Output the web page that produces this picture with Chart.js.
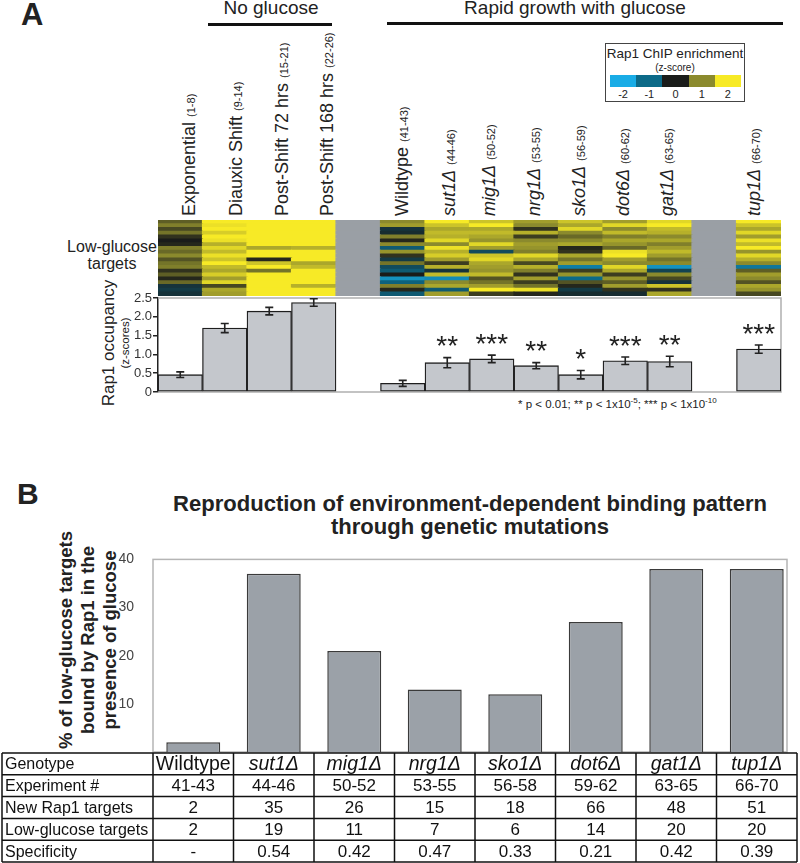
<!DOCTYPE html>
<html><head><meta charset="utf-8">
<script src="https://cdn.jsdelivr.net/npm/chart.js@4.4.1/dist/chart.umd.min.js"></script>
<style>
html,body{margin:0;padding:0;background:#fff;}
#page{position:relative;width:800px;height:863px;overflow:hidden;font-family:"Liberation Sans",Arial,sans-serif;color:#222;}
.abs{position:absolute;white-space:nowrap;}
canvas{position:absolute;}
.rot{position:absolute;white-space:nowrap;transform-origin:0 0;transform:rotate(-90deg) translateY(-50%);font-size:18px;line-height:20px;}
.rot small{font-size:11px;font-style:normal;}
.rc{position:absolute;white-space:nowrap;transform:translate(-50%,-50%) rotate(-90deg);text-align:center;}
.hline{position:absolute;background:#111;}
</style></head><body><div id="page">
<div class="abs" style="left:21px;top:-3px;font-size:31px;font-weight:bold;">A</div>
<div class="abs" style="left:271px;top:-3px;font-size:19px;transform:translateX(-50%);">No glucose</div>
<div class="hline" style="left:208px;top:23px;width:124px;height:3px;"></div>
<div class="abs" style="left:575px;top:-3px;font-size:19px;transform:translateX(-50%);">Rapid growth with glucose</div>
<div class="hline" style="left:387px;top:22px;width:396px;height:3px;"></div>

<div class="abs" style="left:605px;top:43px;width:138px;height:57px;border:1px solid #444;">
  <div class="abs" style="left:0;top:2px;width:138px;text-align:center;font-size:13.5px;">Rap1 ChIP enrichment</div>
  <div class="abs" style="left:0;top:18px;width:138px;text-align:center;font-size:10px;">(z-score)</div>
  <div id="cbar" class="abs" style="left:4px;top:31px;width:131px;height:12px;display:flex;"></div>
  <div id="cbarlab" class="abs" style="left:4px;top:44px;width:131px;height:12px;display:flex;font-size:11px;"></div>
</div>

<div class="abs" style="left:62px;top:238px;width:100px;text-align:center;font-size:16px;line-height:17px;">Low-glucose<br>targets</div>
<div class="rc" style="left:109px;top:343px;font-size:17px;">Rap1 occupancy</div>
<div class="rc" style="left:125px;top:343px;font-size:11.5px;">(z-scores)</div>
<div class="abs" style="left:518px;top:396px;font-size:11.5px;">* p &lt; 0.01; ** p &lt; 1x10<sup style="font-size:8px">-5</sup>; *** p &lt; 1x10<sup style="font-size:8px">-10</sup></div>

<div class="abs" style="left:17px;top:477px;font-size:30px;font-weight:bold;">B</div>
<div id="t1" class="abs" style="left:470px;top:491px;font-size:22px;font-weight:bold;font-family:'Liberation Sans Narrow','Liberation Sans',Arial,sans-serif;">Reproduction of environment-dependent binding pattern</div>
<div id="t2" class="abs" style="left:470px;top:514px;font-size:22px;font-weight:bold;font-family:'Liberation Sans Narrow','Liberation Sans',Arial,sans-serif;">through genetic mutations</div>
<div class="rc" style="left:88px;top:640px;font-size:18.5px;line-height:22px;font-weight:bold;">% of low-glucose targets<br>bound by Rap1 in the<br>presence of glucose</div>

<canvas id="heat" width="623" height="76" style="left:158px;top:220px"></canvas>
<canvas id="barA" width="800" height="120" style="left:0;top:286px"></canvas>
<canvas id="barB" width="800" height="323" style="left:0;top:540px"></canvas>
</div>
<script>
// ---------- Panel A data ----------
const colCategories = ['Exponential','Diauxic Shift','Post-Shift 72 hrs','Post-Shift 168 hrs','','Wildtype','sut1\u0394','mig1\u0394','nrg1\u0394','sko1\u0394','dot6\u0394','gat1\u0394','','tup1\u0394'];
const colRanges = ['(1-8)','(9-14)','(15-21)','(22-26)','','(41-43)','(44-46)','(50-52)','(53-55)','(56-59)','(60-62)','(63-65)','','(66-70)'];
const colItalic = [false,false,false,false,false,false,true,true,true,true,true,true,false,true];
const occupancy = [0.46,1.70,2.15,2.38,null,0.23,0.78,0.88,0.70,0.46,0.83,0.81,null,1.14];
const occupancyErr = [0.075,0.12,0.10,0.10,null,0.08,0.135,0.10,0.08,0.11,0.10,0.14,null,0.11];
const significance = ['','','','','','','**','***','**','*','***','**','','***'];
const aTicks = [0,0.5,1.0,1.5,2.0,2.5];

// heatmap z-scores, rows top to bottom (approximate bands)
const zExponential = [0.6,0.9,0.4,0.8,0.2,0.0,0.1,0.9,0.7,1.0,0.5,0.8,0.9,0.2,0.6,0.1,0.7,-0.3,-0.4,-0.3];
const zDiauxic = [2,1.9,2,1.7,2,1.9,1.4,1.8,1.5,1.9,1.6,2,1.5,1.3,1.7,1.2,1.8,0.4,1.3,1.2];
const zPost72 = [2,2,2,2,2,2,2,1.3,2,2,0.1,1.6,2,0.8,2,2,2,2,2,2];
const zPost168 = [2,2,2,2,2,2,2,1.4,2,2,2,1.3,1.5,2,2,2,2,1.4,2,2];
const zWildtype = [1.0,1.2,-0.3,-0.2,0.9,0.1,1.0,-0.8,1.1,0.2,-0.4,0.8,-0.6,-0.8,0.0,-1.6,-0.9,0.9,0.1,-0.8];
const zSut1 = [2,1.6,1.3,1.5,1.4,1.8,1.0,1.9,1.4,1.7,1.2,0.3,1.4,-0.3,1.5,-1.5,1.0,1.3,-0.8,1.2];
const zMig1 = [1.6,2,1.3,1.5,1.3,1.1,1.8,1.2,-0.6,1.6,1.8,1.3,1.2,1.1,1.5,0.5,0.8,1.2,2,0.3];
const zNrg1 = [1.2,1.0,0.2,1.4,0.3,1.0,1.2,1.1,0.9,1.8,1.3,0.4,1.4,0.9,0.2,1.2,0.3,0.8,1.9,0.1];
const zSko1 = [1.6,1.3,1.8,1.0,0.7,1.0,1.3,0.1,0.2,1.3,0.8,1.2,-1.3,0.3,1.1,-1.0,0.5,0.1,-0.4,-0.2];
const zDot6 = [1.2,1.8,1.0,1.5,0.9,1.3,1.1,0.7,1.9,2.0,1.2,1.0,1.8,1.3,0.3,1.1,0.6,1.2,0.2,-0.2];
const zGat1 = [1.8,2,1.5,1.4,1.0,1.3,0.9,1.2,1.5,1.2,0.8,1.0,-1.6,-0.5,1.0,0.4,-0.3,1.6,0.2,1.3];
const zTup1 = [2,1.6,1.3,1.8,1.2,1.9,1.5,2,1.1,1.8,1.4,1.0,-1.2,0.6,1.2,1.0,0.5,1.3,1.1,0.4];
const heatColumns = [zExponential,zDiauxic,zPost72,zPost168,null,zWildtype,zSut1,zMig1,zNrg1,zSko1,zDot6,zGat1,null,zTup1];
const legendTicks = [-2,-1,0,1,2];

// ---------- Panel B data ----------
const genotypes = ['Wildtype','sut1\u0394','mig1\u0394','nrg1\u0394','sko1\u0394','dot6\u0394','gat1\u0394','tup1\u0394'];
const pctBound = [2,37,21,13,12,27,38,38];
const experiments = ['41-43','44-46','50-52','53-55','56-58','59-62','63-65','66-70'];
const newTargets = ['2','35','26','15','18','66','48','51'];
const lowGlucoseTargets = ['2','19','11','7','6','14','20','20'];
const specificity = ['-','0.54','0.42','0.47','0.33','0.21','0.42','0.39'];
const rowLabels = ['Genotype','Experiment #','New Rap1 targets','Low-glucose targets','Specificity'];
const bTicks = [10,20,30,40];

// ---------- styles ----------
const FONT = "'Liberation Sans', Arial, sans-serif";
Chart.defaults.font.family = FONT;
Chart.defaults.color = '#333';
const GAP_GRAY = '#9a9fa5';
const stops = [[25,172,230],[12,106,136],[26,28,26],[139,138,45],[247,234,38]];
function zColor(z){
  const t = Math.max(-2, Math.min(2, z)) + 2;
  const i = Math.min(3, Math.floor(t)), f = t - i;
  const a = stops[i], b = stops[i+1];
  const c = a.map((v,k)=>Math.round(v + (b[k]-v)*f));
  return `rgb(${c[0]},${c[1]},${c[2]})`;
}

// legend colour bar
const cbar = document.getElementById('cbar'), cbl = document.getElementById('cbarlab');
legendTicks.forEach(v=>{
  const d = document.createElement('div'); d.style.flex='1'; d.style.background = zColor(v); cbar.appendChild(d);
  const l = document.createElement('div'); l.style.flex='1'; l.style.textAlign='center'; l.textContent = v; cbl.appendChild(l);
});

// ---------- heatmap ----------
const nRows = zExponential.length;
const heatDatasets = [];
for (let k = 0; k < nRows; k++) {
  const r = nRows - 1 - k; // first dataset sits at the bottom
  heatDatasets.push({
    data: colCategories.map(()=>1),
    backgroundColor: heatColumns.map(col => col ? zColor(col[r]) : GAP_GRAY),
    borderWidth: 0, barPercentage: 1, categoryPercentage: 1, inflateAmount: 0.6
  });
}
const heatChart = new Chart(document.getElementById('heat'), {
  type: 'bar',
  data: { labels: colCategories, datasets: heatDatasets },
  options: {
    responsive:false, animation:false, devicePixelRatio:1,
    layout:{padding:0},
    plugins:{legend:{display:false}, tooltip:{enabled:false}},
    scales:{ x:{stacked:true, display:false}, y:{stacked:true, display:false, min:0, max:nRows} }
  }
});

// column labels from the heatmap's x scale
const labelShift = [10,12,14,14,0,0,3,-2,-1,-1,-1,-2,0,-4];
const page = document.getElementById('page');
colCategories.forEach((name,i)=>{
  if (!name) return;
  const cx = 158 + heatChart.scales.x.getPixelForValue(i) + labelShift[i];
  const d = document.createElement('div');
  d.className = 'rot';
  d.style.left = cx + 'px'; d.style.top = '216px';
  d.innerHTML = (colItalic[i] ? '<i>'+name+'</i>' : name) + ' <small>' + colRanges[i] + '</small>';
  page.appendChild(d);
});

// ---------- bar chart A ----------
const errPlugin = {
  id:'errA',
  beforeDatasetsDraw(chart){
    const {ctx, chartArea:a} = chart;
    ctx.save(); ctx.strokeStyle = '#b0b0b0'; ctx.lineWidth = 1.5;
    ctx.beginPath(); ctx.moveTo(a.left, a.top); ctx.lineTo(a.right, a.top); ctx.lineTo(a.right, a.bottom); ctx.lineTo(a.left, a.bottom); ctx.stroke();
    ctx.restore();
  },
  afterDatasetsDraw(chart){
    const {ctx, scales:{x,y}} = chart;
    ctx.save();
    occupancy.forEach((v,i)=>{
      if (v == null) return;
      const cx = x.getPixelForValue(i);
      const t = y.getPixelForValue(v + occupancyErr[i]);
      const b = y.getPixelForValue(v - occupancyErr[i]);
      ctx.strokeStyle = '#222'; ctx.lineWidth = 1.6;
      ctx.beginPath();
      ctx.moveTo(cx, t); ctx.lineTo(cx, b);
      ctx.moveTo(cx-4, t); ctx.lineTo(cx+4, t);
      ctx.moveTo(cx-4, b); ctx.lineTo(cx+4, b);
      ctx.stroke();
      if (significance[i]) {
        ctx.fillStyle = '#222'; ctx.font = "28px " + FONT;
        ctx.textAlign = 'center'; ctx.textBaseline = 'middle';
        ctx.fillText(significance[i], cx, t - 10);
      }
    });
    ctx.restore();
  }
};
new Chart(document.getElementById('barA'), {
  type:'bar',
  data:{ labels: colCategories, datasets:[{
    data: occupancy, backgroundColor:'#c4c7cc', borderColor:'#1e1e1e', borderWidth:1.3,
    borderSkipped:false, barPercentage:1, categoryPercentage:1
  }]},
  options:{
    responsive:false, animation:false, devicePixelRatio:1,
    layout:{padding:{top:12, right:19, bottom:14, left:0}},
    plugins:{legend:{display:false}, tooltip:{enabled:false}},
    scales:{
      x:{display:false},
      y:{min:0, max:2.5, afterFit(s){ s.width = 158; },
         afterBuildTicks(s){ s.ticks = aTicks.map(v=>({value:v})); },
         border:{display:true, color:'#222', width:1.5},
         grid:{drawOnChartArea:false, tickLength:5, color:'#222', lineWidth:1.5},
         ticks:{autoSkip:false, padding:1, color:'#333', font:{size:13},
                callback:v => v === 0 ? '0' : Number(v).toFixed(1)}}
    }
  },
  plugins:[errPlugin]
});

// ---------- bar chart B with table ----------
const tablePlugin = {
  id:'tableB',
  beforeDatasetsDraw(chart){
    const {ctx, chartArea:a} = chart;
    ctx.save(); ctx.strokeStyle = '#b5b5b5'; ctx.lineWidth = 1.5;
    ctx.strokeRect(a.left, a.top, (a.right - 10) - a.left, a.bottom - a.top);
    ctx.restore();
  },
  afterDraw(chart){
    const {ctx, chartArea:a, scales:{x}} = chart;
    const top = a.bottom + 1, rowH = 21.8, n = rowLabels.length;
    const half = (x.getPixelForValue(1) - x.getPixelForValue(0)) / 2;
    const rows = [genotypes, experiments, newTargets, lowGlucoseTargets, specificity];
    ctx.save();
    ctx.fillStyle = '#fff'; ctx.fillRect(0, top, chart.width, rowH*n + 2);
    ctx.strokeStyle = '#111'; ctx.lineWidth = 1.5;
    ctx.beginPath();
    for (let r = 0; r <= n; r++) { ctx.moveTo(2, top + r*rowH); ctx.lineTo(a.right, top + r*rowH); }
    ctx.moveTo(2, top); ctx.lineTo(2, top + n*rowH);
    genotypes.forEach((g,i)=>{ const e = x.getPixelForValue(i) - half; ctx.moveTo(e, top); ctx.lineTo(e, top + n*rowH); });
    ctx.moveTo(a.right, top); ctx.lineTo(a.right, top + n*rowH);
    ctx.stroke();
    ctx.fillStyle = '#111'; ctx.textBaseline = 'middle';
    rowLabels.forEach((lab,r)=>{
      const cy = top + r*rowH + rowH/2 + 1;
      ctx.textAlign = 'left'; ctx.font = "16px " + FONT;
      ctx.fillText(lab, 5, cy);
      ctx.textAlign = 'center';
      rows[r].forEach((val,i)=>{
        if (r === 0) ctx.font = (i === 0 ? '' : 'italic ') + "19.5px " + FONT;
        else ctx.font = "17px " + FONT;
        ctx.fillText(val, x.getPixelForValue(i), cy);
      });
    });
    ctx.restore();
  }
};
new Chart(document.getElementById('barB'), {
  type:'bar',
  data:{ labels: genotypes, datasets:[{
    data: pctBound, backgroundColor:'#9ba1a8', borderColor:'#3a3a3a', borderWidth:1.5,
    barPercentage:0.67, categoryPercentage:1
  }]},
  options:{
    responsive:false, animation:false, devicePixelRatio:1,
    layout:{padding:{top:17, right:3, bottom:111, left:0}},
    plugins:{legend:{display:false}, tooltip:{enabled:false}},
    scales:{
      x:{display:false},
      y:{min:0, max:40, afterFit(s){ s.width = 153; },
         border:{display:false}, grid:{display:false},
         afterBuildTicks(s){ s.ticks = bTicks.map(v=>({value:v})); },
         ticks:{autoSkip:false, padding:11, color:'#444', font:{size:14}}}
    }
  },
  plugins:[tablePlugin]
});

// fit the condensed title to its width
const t1 = document.getElementById('t1');
const s1 = 594 / t1.getBoundingClientRect().width;
['t1','t2'].forEach(id=>{
  document.getElementById(id).style.transform = `translateX(-50%) scaleX(${s1})`;
});
</script>
</body></html>
